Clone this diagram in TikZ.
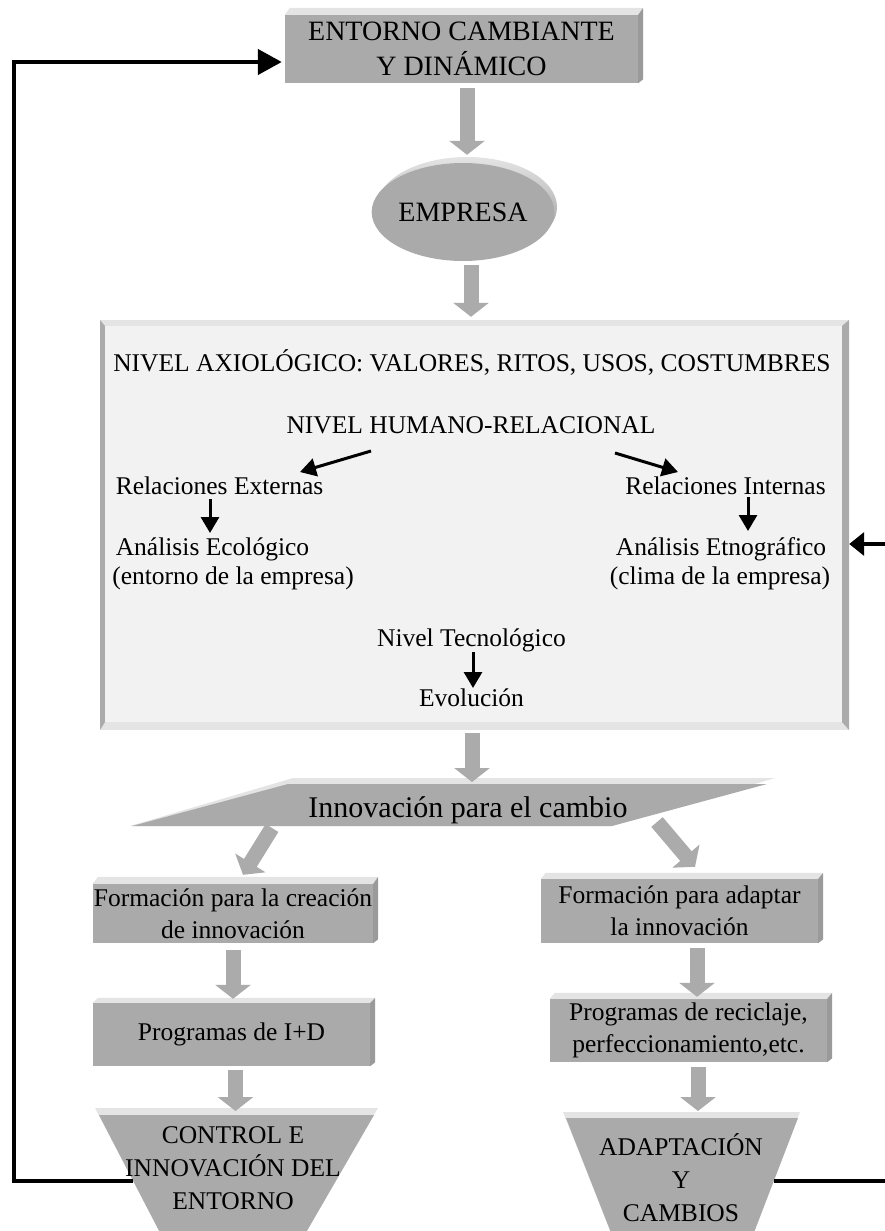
\documentclass[tikz,border=0pt]{standalone}
\usepackage{fontspec}
\setmainfont{Liberation Serif}
\usetikzlibrary{arrows.meta,calc,shapes.geometric}

\definecolor{facegray}{HTML}{AAAAAA}
\definecolor{toplight}{HTML}{E4E4E4}
\definecolor{sidegray}{HTML}{9A9A9A}
\definecolor{panelface}{HTML}{F2F2F2}
\definecolor{panelside}{HTML}{ABABAB}
\definecolor{arrowgray}{HTML}{ABABAB}

% raised look of a grey box: light top strip and darker right strip
\newcommand{\boxbevel}[2]{%
  \fill[toplight] (#1.north west) -- ++(5,-#2) -- ($(#1.north east)+(5,-#2)$) -- (#1.north east) -- cycle;
  \fill[sidegray] (#1.north east) -- ($(#1.north east)+(5,-#2)$) -- ($(#1.south east)+(5,-4)$) -- (#1.south east) -- cycle;}

\begin{document}
\begin{tikzpicture}[x=1pt,y=-1pt,
  face/.style={fill=facegray, inner sep=0pt, align=center,
    font=\fontsize{25.5}{32}\selectfont},
  txt/.style={inner sep=0pt, anchor=base, font=\fontsize{25.5}{32}\selectfont},
  trap/.style={inner sep=0pt, align=center, font=\fontsize{25.5}{33}\selectfont},
  garrow/.style={draw=arrowgray, line width=15pt, -{Triangle[length=14pt,width=35pt]}},
  barrow/.style={line width=3pt, -{Triangle[length=16pt,width=18pt]}},
  loopline/.style={line width=4.5pt}]
\useasboundingbox (0,0) rectangle (885,1231);
\clip (0,0) rectangle (885,1231);

% top box
\node[face, minimum width=353pt, minimum height=68pt,
  font=\fontsize{28}{35}\selectfont] (entorno) at (461.5,49) {ENTORNO CAMBIANTE\\Y DINÁMICO};
\boxbevel{entorno}{7}

% company ellipse with its lit rim
\shade[top color=toplight, bottom color=gray!85] (467,207) ellipse [x radius=90pt, y radius=50pt];
\node[ellipse, fill=facegray, minimum width=178pt, minimum height=98pt, inner sep=0pt,
  font=\fontsize{28}{35}\selectfont] (empresa) at (463,212) {EMPRESA};

% large light panel with bevelled frame
\fill[toplight] (100,320) rectangle (849,730);
\fill[panelside] (100,320) -- (105,326) -- (105,722) -- (100,730) -- cycle;
\fill[panelside] (849,320) -- (842,326) -- (842,722) -- (849,730) -- cycle;
\node[fill=panelface, minimum width=737pt, minimum height=396pt, inner sep=0pt] (panel) at (473.5,524) {};

\node[txt] (axio)  at (472,371)   {NIVEL AXIOLÓGICO: VALORES, RITOS, USOS, COSTUMBRES};
\node[txt] (hum)   at (471,433)   {NIVEL HUMANO-RELACIONAL};
\node[txt] (ext)   at (219.5,494) {Relaciones Externas};
\node[txt] (eco)   at (212.5,555) {Análisis Ecológico};
\node[txt] (ent)   at (233,584)   {(entorno de la empresa)};
\node[txt] (int)   at (725.5,494) {Relaciones Internas};
\node[txt] (etno)  at (721,555)   {Análisis Etnográfico};
\node[txt] (clima) at (720,584)   {(clima de la empresa)};
\node[txt] (tec)   at (471.5,646) {Nivel Tecnológico};
\node[txt] (evo)   at (471.5,706) {Evolución};

\draw[barrow] ($(hum.base)+(-100,18)$) -- ($(ext.base)+(80.5,-22)$);
\draw[barrow] ($(hum.base)+(144,20)$) -- ($(int.base)+(-47.5,-22)$);
\draw[barrow] ($(ext.base)+(-9.5,5)$) -- ($(eco.base)+(-2.5,-22)$);
\draw[barrow] ($(int.base)+(22.5,3)$) -- ($(etno.base)+(27,-24)$);
\draw[barrow] ($(tec.base)+(1.5,6)$) -- ($(evo.base)+(1.5,-18)$);

% slanted banner
\fill[toplight] (130,826) -- (293,778) -- (775,778) -- (612,826) -- cycle;
\fill[facegray] (132,826) -- (288,784) -- (767,784) -- (612,826) -- cycle;
\node[anchor=base, inner sep=0pt, font=\fontsize{30}{36}\selectfont] (innov) at (468,817) {Innovación para el cambio};

% two columns of boxes
\node[face, minimum width=280pt, minimum height=59pt] (form1) at (233,913.5) {Formación para la creación\\de innovación};
\boxbevel{form1}{7}
\node[face, minimum width=277pt, minimum height=64pt] (form2) at (679.5,911) {Formación para adaptar\\la innovación};
\boxbevel{form2}{6}
\node[face, minimum width=277pt, minimum height=63pt] (prog1) at (231.5,1034.5) {Programas de I+D};
\boxbevel{prog1}{5}
\node[face, minimum width=277pt, minimum height=63pt] (prog2) at (688.5,1030.5) {Programas de reciclaje,\\perfeccionamiento,etc.};
\boxbevel{prog2}{6}

% funnels at the bottom
\fill[toplight] (95,1108) -- (378,1108) -- (297,1248) -- (168,1248) -- cycle;
\fill[facegray] (99,1115) -- (374,1115) -- (297,1248) -- (168,1248) -- cycle;
\fill[toplight] (563,1112) -- (800,1112) -- (748,1248) -- (617,1248) -- cycle;
\fill[facegray] (566,1118) -- (798,1118) -- (748,1248) -- (617,1248) -- cycle;
\node[trap] (ctrl) at (233,1168) {CONTROL E\\INNOVACIÓN DEL\\ENTORNO};
\node[trap] (adapt) at (681,1178) {ADAPTACIÓN\\Y\\CAMBIOS};
\coordinate (ctrlL) at (133,1181);
\coordinate (adaptR) at (774,1181);

% grey flow arrows
\draw[garrow] ($(entorno.south)+(5.5,5)$) -- ($(empresa.north)+(4,-8)$);
\draw[garrow] ($(empresa.south)+(8,4)$) -- ($(panel.north)+(-2.5,-9)$);
\draw[garrow] ($(panel.south)+(-1.5,11)$) -- ($(innov.base)+(4,-35)$);
\draw[garrow] ($(innov.base)+(-196,11)$) -- ($(form1.north)+(10,-9)$);
\draw[garrow] ($(innov.base)+(189,5)$) -- ($(form2.north)+(15.5,-12)$);
\draw[garrow] ($(form1.south)+(0,7)$) -- ($(prog1.north)+(1.5,-4)$);
\draw[garrow] ($(prog1.south)+(4,4)$) -- ($(ctrl.center)+(2.5,-57)$);
\draw[garrow] ($(form2.south)+(17.5,5)$) -- ($(prog2.north)+(8.5,-2)$);
\draw[garrow] ($(prog2.south)+(9.5,5)$) -- ($(adapt.center)+(17,-67)$);

% feedback loops
\draw[loopline, -{Triangle[length=24pt,width=25pt]}]
  (ctrlL) -- ++(-119,0) |- ($(entorno.west)+(-3,13)$);
\draw[loopline, -{Triangle[length=15pt,width=23pt]}]
  (adaptR) -- ++(130,0) |- ($(panel.east)+(7,20)$);
\end{tikzpicture}
\end{document}
